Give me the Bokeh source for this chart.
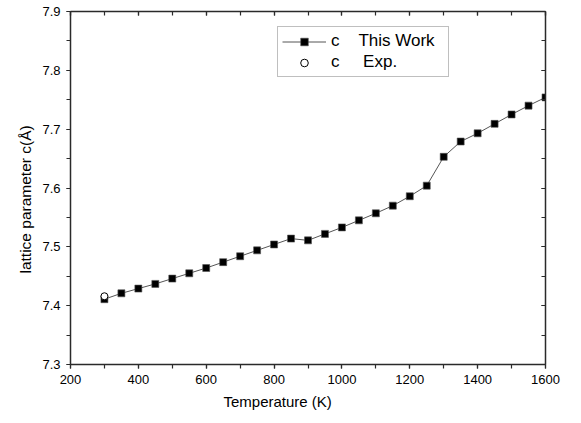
from bokeh.plotting import figure
from bokeh.models import (Range1d, SingleIntervalTicker, LinearAxis, Legend, LegendItem,
                          Title, CustomLabelingPolicy)
from bokeh.embed import file_html
from bokeh.resources import INLINE

# ---- data ----
temperature = [300, 350, 400, 450, 500, 550, 600, 650, 700, 750, 800, 850, 900,
               950, 1000, 1050, 1100, 1150, 1200, 1250, 1300, 1350, 1400, 1450,
               1500, 1550, 1600]
c_this_work = [7.411, 7.421, 7.429, 7.437, 7.446, 7.455, 7.464, 7.474, 7.484,
               7.494, 7.504, 7.514, 7.511, 7.522, 7.533, 7.545, 7.557, 7.570,
               7.586, 7.604, 7.653, 7.679, 7.693, 7.709, 7.725, 7.740, 7.754]
exp_temperature = [300]
c_exp = [7.416]

x_label = "Temperature (K)"
y_label = "lattice parameter c(Å)"
legend_labels = ["c\u00a0\u00a0\u00a0\u00a0This Work\u00a0\u00a0", "c\u00a0\u00a0\u00a0\u00a0\u00a0Exp."]

FONT = "Liberation Sans"
AXIS_COLOR = "#2a2a2a"

p = figure(width=581, height=423, output_backend="svg", toolbar_location=None,
           x_range=Range1d(200, 1600), y_range=Range1d(7.3, 7.9),
           min_border_left=70, min_border_right=36, min_border_top=10, min_border_bottom=59)
p.outline_line_color = None
p.xgrid.visible = False
p.ygrid.visible = False
p.background_fill_color = "white"
p.border_fill_color = "white"

xt = SingleIntervalTicker(interval=200, num_minor_ticks=2)
yt = SingleIntervalTicker(interval=0.1, num_minor_ticks=2)


def style_main(ax, ticker):
    ax.ticker = ticker
    ax.axis_line_color = AXIS_COLOR
    ax.axis_line_width = 1.5
    ax.major_tick_line_color = AXIS_COLOR
    ax.minor_tick_line_color = AXIS_COLOR
    ax.major_tick_line_width = 1.2
    ax.minor_tick_line_width = 1.2
    ax.major_tick_in = 0
    ax.major_tick_out = 4
    ax.minor_tick_in = 0
    ax.minor_tick_out = 4
    ax.major_label_text_font = FONT
    ax.major_label_text_font_size = "13px"
    ax.major_label_text_color = "black"
    ax.major_label_standoff = 6


style_main(p.xaxis[0], xt)
style_main(p.yaxis[0], yt)


def mirror_axis(ticker):
    return LinearAxis(ticker=ticker, axis_line_color=AXIS_COLOR, axis_line_width=1.5,
                      major_tick_line_color=AXIS_COLOR, minor_tick_line_color=AXIS_COLOR,
                      major_tick_line_width=1.2, minor_tick_line_width=1.2,
                      major_tick_in=4, major_tick_out=0, minor_tick_in=4, minor_tick_out=0,
                      major_label_policy=CustomLabelingPolicy(code="return []"),
                      major_label_standoff=0)


p.add_layout(mirror_axis(xt), "above")
p.add_layout(mirror_axis(yt), "right")

xt_title = Title(text=x_label, align="left", offset=153, text_font=FONT,
                 text_font_size="15px", text_font_style="normal", text_color="black", standoff=9)
p.add_layout(xt_title, "below")
yt_title = Title(text=y_label, align="left", offset=91, text_font=FONT,
                 text_font_size="15.5px", text_font_style="normal", text_color="black", standoff=12)
p.add_layout(yt_title, "left")

line_r = p.line(temperature, c_this_work, line_color="#555555", line_width=1)
sq_r = p.scatter(temperature, c_this_work, marker="square", size=7,
                 fill_color="black", line_color="#555555", line_width=0.6)
circ_r = p.scatter(exp_temperature, c_exp, marker="circle", size=7,
                   fill_color="white", line_color="black", line_width=1)

legend = Legend(items=[LegendItem(label=legend_labels[0], renderers=[line_r, sq_r]),
                       LegendItem(label=legend_labels[1], renderers=[circ_r])],
                location=(207, 287), padding=4, spacing=1, margin=0,
                glyph_width=44, glyph_height=19, label_height=19, label_standoff=5,
                label_text_font=FONT, label_text_font_size="17px", label_text_color="black",
                border_line_color="#808080", border_line_width=1,
                background_fill_color="white", background_fill_alpha=1)
p.add_layout(legend)

open("out.html", "w").write(file_html(p, INLINE))
